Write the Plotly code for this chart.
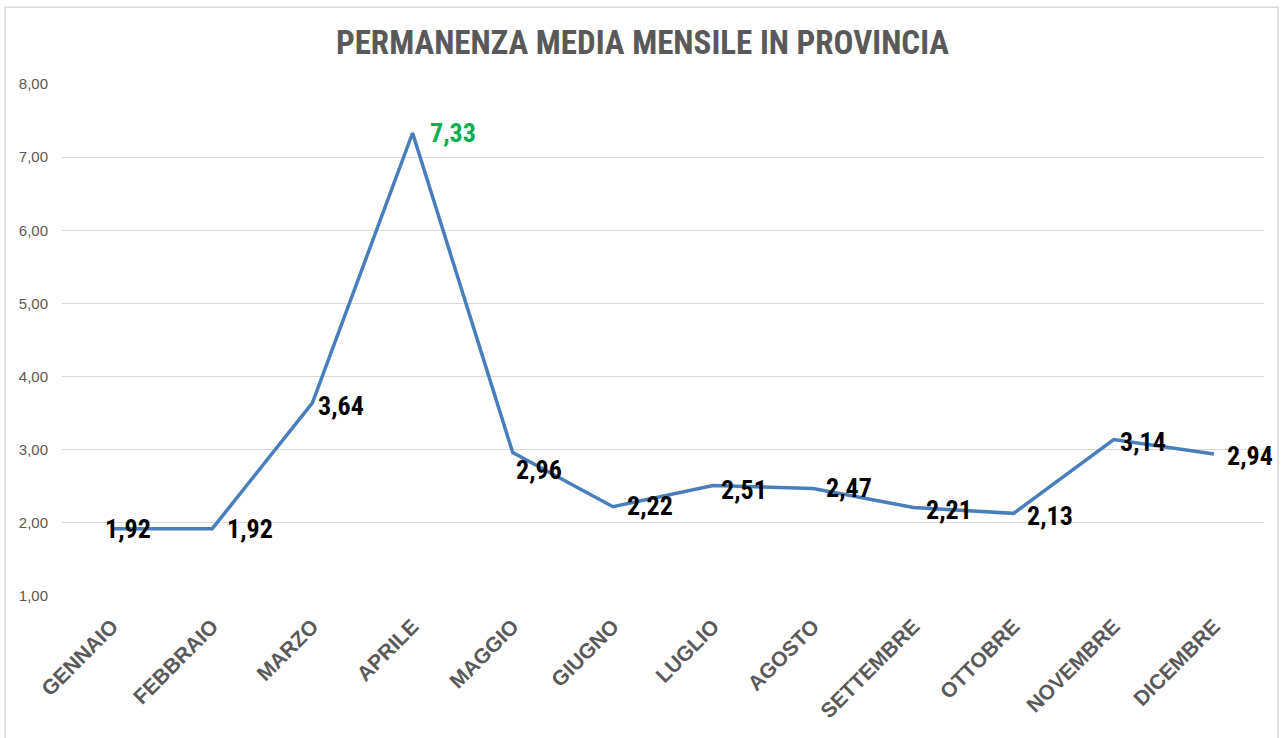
import plotly.graph_objects as go

months = ["GENNAIO", "FEBBRAIO", "MARZO", "APRILE", "MAGGIO", "GIUGNO",
          "LUGLIO", "AGOSTO", "SETTEMBRE", "OTTOBRE", "NOVEMBRE", "DICEMBRE"]
values = [1.92, 1.92, 3.64, 7.33, 2.96, 2.22, 2.51, 2.47, 2.21, 2.13, 3.14, 2.94]
y_ticks = [1, 2, 3, 4, 5, 6, 7, 8]
y_tick_labels = ["1,00", "2,00", "3,00", "4,00", "5,00", "6,00", "7,00", "8,00"]

# label placement (pixels relative to point, screen coords: +dy = down)
label_dx = [16, 38, 29, 40, 26, 37, 31, 36, 36, 36, 29, 36]
label_dy = [0, 0, 3, 0, 17, -1, 4, 0, 2, 3, 3, 2]
label_colors = ["black"] * 12
label_colors[3] = "#00B050"

cond = "Liberation Sans Narrow, Arial Narrow, Roboto Condensed, Liberation Sans, sans-serif"

fig = go.Figure()
fig.add_trace(go.Scatter(
    x=months, y=values, mode="lines",
    line=dict(color="#4A7EBB", width=3.5),
    hoverinfo="skip", showlegend=False,
))

for m, v, dx, dy, c in zip(months, values, label_dx, label_dy, label_colors):
    fig.add_annotation(
        x=m, y=v, text="<b>" + f"{v:.2f}".replace(".", ",") + "</b>", showarrow=False,
        xshift=dx, yshift=-dy,
        font=dict(family=cond, size=26, color=c),
    )

fig.add_shape(type="rect", xref="paper", yref="paper",
              x0=-0.0474, x1=1.0116, y0=-0.29, y1=1.150,
              line=dict(color="#D9D9D9", width=1.5), fillcolor="rgba(0,0,0,0)", layer="below")

fig.update_layout(
    width=1285, height=738,
    margin=dict(l=62, r=21, t=84, b=142),
    paper_bgcolor="white", plot_bgcolor="white",
    title=dict(text="<b>PERMANENZA MEDIA MENSILE IN PROVINCIA</b>",
               x=0.5, xanchor="center", y=0.943, yanchor="middle",
               font=dict(family=cond, size=33, color="#595959")),
    xaxis=dict(type="category", range=[-0.5, 11.5], showgrid=False, showline=False,
               zeroline=False, ticks="", tickangle=-45,
               tickfont=dict(family="Liberation Sans, Arial, sans-serif", size=21, color="#595959"),
               ticklabelstandoff=13),
    yaxis=dict(range=[1, 8], tickvals=y_ticks, ticktext=y_tick_labels,
               showgrid=True, gridcolor="#D9D9D9", gridwidth=1.3, zeroline=False,
               showline=False, ticks="", ticklabelstandoff=13,
               tickfont=dict(family="Liberation Sans, Arial, sans-serif", size=15, color="#595959")),
    font=dict(family="Liberation Sans, Arial, sans-serif"),
)
fig.update_xaxes(tickprefix="<b>", ticksuffix="</b>")

fig.write_html("out.html", config={"displayModeBar": False},
               post_script="document.body.style.margin='0';")
